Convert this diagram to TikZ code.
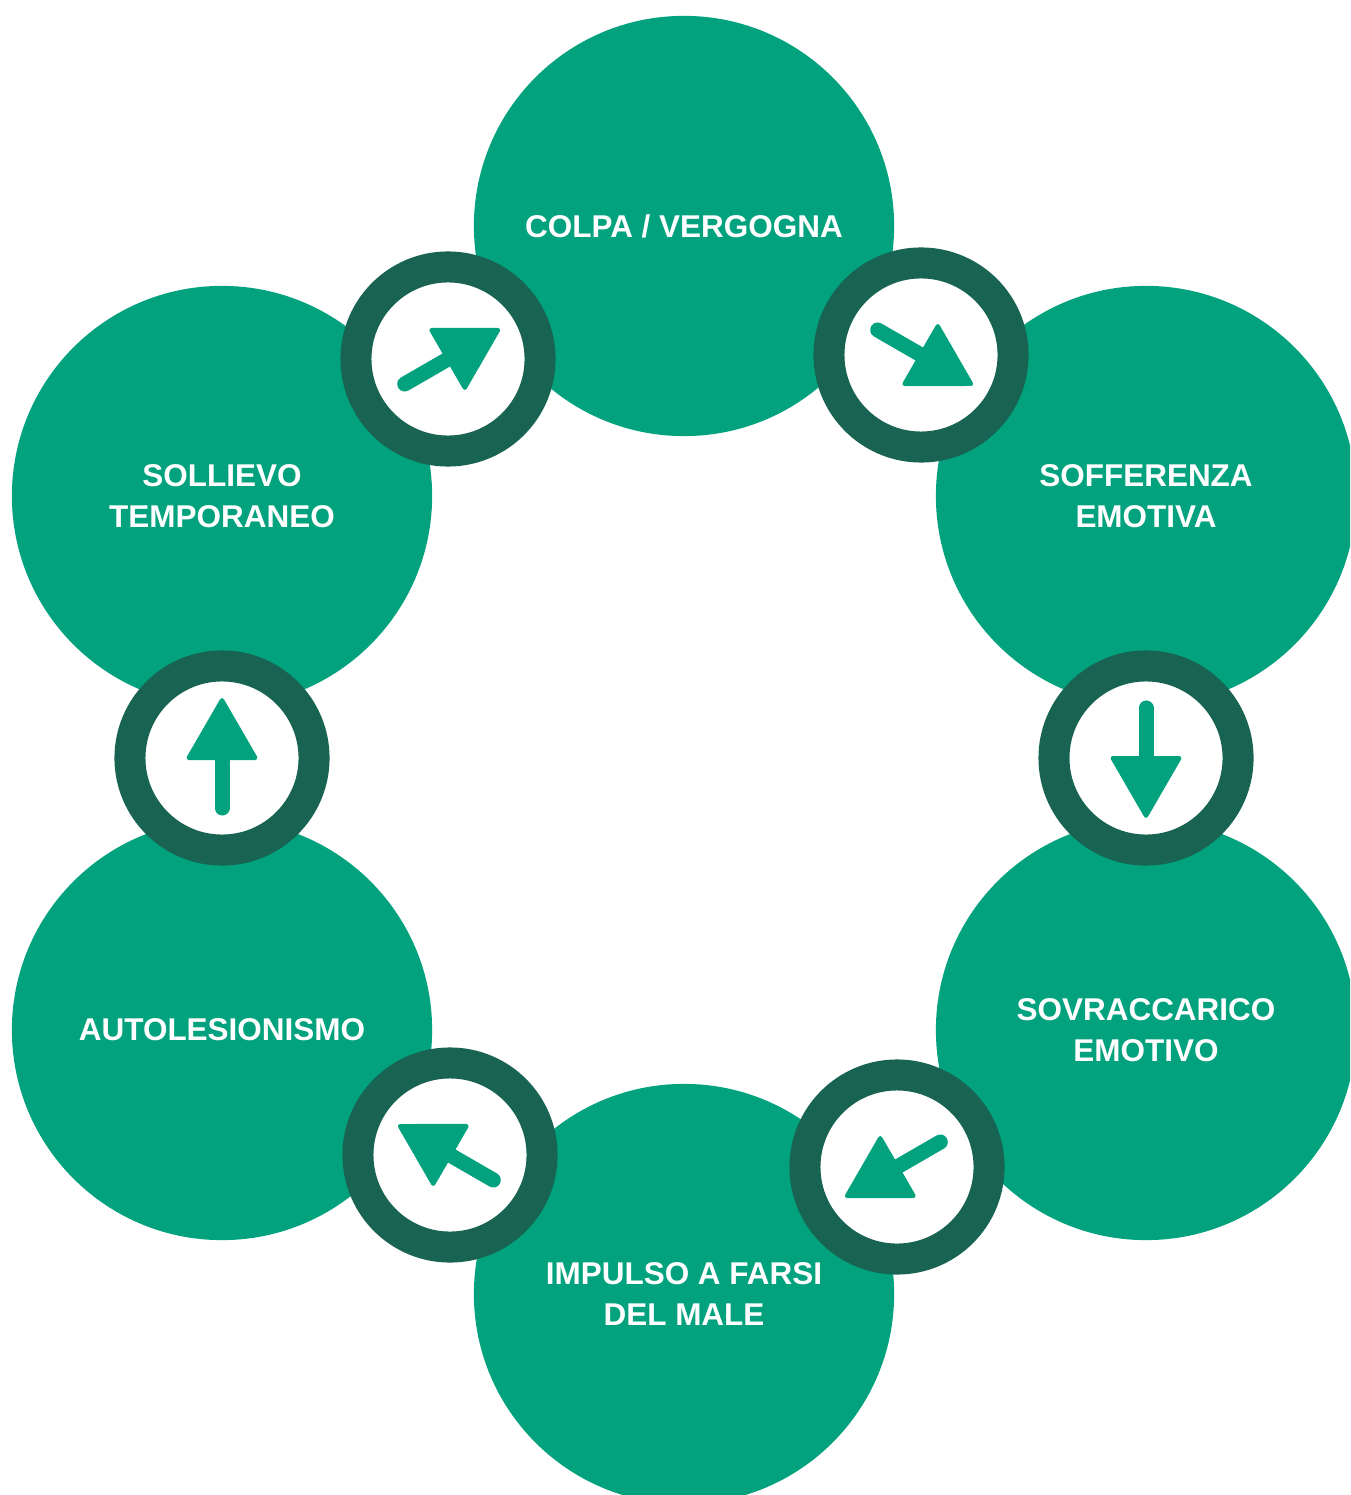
\documentclass[tikz,border=0pt]{standalone}
\usepackage{fontspec}
\setmainfont{Liberation Sans}
\definecolor{cgreen}{RGB}{1,162,125}
\definecolor{cdark}{RGB}{24,99,82}
\begin{document}
\begin{tikzpicture}[x=0.01cm,y=-0.01cm,
  big/.style={circle, fill=cgreen, minimum size=4.2cm, inner sep=0pt, outer sep=0pt,
    text=white, font=\fontsize{8.95pt}{11.66pt}\selectfont\bfseries, align=center},
  ringnode/.style={circle, draw=cdark, line width=0.31cm, fill=white, minimum size=1.84cm, inner sep=0pt, outer sep=0pt},
  shaft/.style={draw=cgreen, line width=0.15cm, line cap=round},
  head/.style={fill=cgreen, rounded corners=0.04cm}]
\clip (0,0) rectangle (1350,1495);
\useasboundingbox (0,0) rectangle (1350,1495);
% big circles
\node[big] (c1) at (684,226) {COLPA / VERGOGNA};
\node[big] (c2) at (1146,496) {SOFFERENZA\\EMOTIVA};
\node[big] (c3) at (1146,1030) {SOVRACCARICO\\EMOTIVO};
\node[big] (c4) at (684,1294) {IMPULSO A FARSI\\DEL MALE};
\node[big] (c5) at (222,1030) {AUTOLESIONISMO};
\node[big] (c6) at (222,496) {SOLLIEVO\\TEMPORANEO};
% rings
\node[ringnode] (r1) at (448,359) {};
\node[ringnode] (r2) at (921,355) {};
\node[ringnode] (r3) at (1146,758) {};
\node[ringnode] (r4) at (897,1167) {};
\node[ringnode] (r5) at (450,1155) {};
\node[ringnode] (r6) at (222,758) {};
% arrows
\foreach \r/\a in {r1/30, r2/-30, r3/-90, r4/210, r5/150, r6/90}{
  \begin{scope}[shift={(\r.center)}, rotate=\a]
    \draw[shaft] (-50,0) -- (0,0);
    \fill[head] (-2,-37) -- (62,0) -- (-2,37) -- cycle;
  \end{scope}
}
\end{tikzpicture}
\end{document}
